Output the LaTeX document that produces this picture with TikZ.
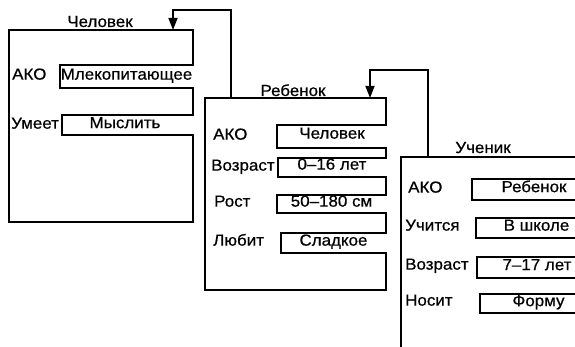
\documentclass[tikz,border=0pt]{standalone}
\usepackage{fontspec}
\setmainfont{Liberation Sans}[FakeStretch=1.06,FakeBold=0.6]
\usetikzlibrary{arrows.meta}
\begin{document}
\begin{tikzpicture}[x=1pt,y=-1pt,
  framebox/.style={line width=1.6pt,line join=miter},
  arr/.style={line width=1.6pt,-{Triangle[length=12pt,width=9pt]}},
  slotlbl/.style={anchor=mid west,inner sep=0pt,font=\fontsize{16}{18}\selectfont},
  slotval/.style={anchor=mid,inner sep=0pt,font=\fontsize{16}{18}\selectfont},
  title/.style={anchor=base,inner sep=0pt,font=\fontsize{16}{18}\selectfont}]
\useasboundingbox (0,0) rectangle (575,347);
\begin{scope}
\clip (0,0) rectangle (575,347);
% Frame 1: Человек
\draw[framebox] (193,30) -- (9,30) -- (9,222) -- (193,222) -- (193,135)
  -- (62,135) -- (62,115) -- (193,115) -- (193,88) -- (60,88) -- (60,65) -- (193,65) -- cycle;
% Frame 2: Ребенок
\draw[framebox] (386,98) -- (205,98) -- (205,290) -- (386,290) -- (386,253)
  -- (281,253) -- (281,233) -- (386,233) -- (386,213) -- (277,213) -- (277,195) -- (386,195)
  -- (386,177) -- (278,177) -- (278,158) -- (386,158) -- (386,148) -- (277,148) -- (277,125)
  -- (386,125) -- cycle;
% Frame 3: Ученик
\draw[framebox] (597,157) -- (401,157) -- (401,360) -- (597,360) -- (597,313)
  -- (480,313) -- (480,294) -- (597,294) -- (597,278) -- (477,278) -- (477,257) -- (597,257)
  -- (597,238) -- (476,238) -- (476,218) -- (597,218) -- (597,200) -- (472,200) -- (472,179)
  -- (597,179) -- cycle;
\end{scope}
% titles
\node[title] (t1) at (100,27) {Человек};
\node[title] (t2) at (293,96) {Ребенок};
\node[title] (t3) at (483,153) {Ученик};
% frame 1 slots
\node[slotlbl] (l11) at (12,77) {АКО};
\node[slotval] (v11) at (126.5,77) {Млекопитающее};
\node[slotlbl] (l12) at (11,126) {Умеет};
\node[slotval] (v12) at (125,125.5) {Мыслить};
% frame 2 slots
\node[slotlbl] (l21) at (213,137) {АКО};
\node[slotval] (v21) at (332,136) {Человек};
\node[slotlbl] (l22) at (211,168) {Возраст};
\node[slotval] (v22) at (332,167) {0–16 лет};
\node[slotlbl] (l23) at (214,204) {Рост};
\node[slotval] (v23) at (331.5,204) {50–180 см};
\node[slotlbl] (l24) at (213,243) {Любит};
\node[slotval] (v24) at (333.5,243) {Сладкое};
% frame 3 slots
\node[slotlbl] (l31) at (408,190) {АКО};
\node[slotval] (v31) at (534,189.5) {Ребенок};
\node[slotlbl] (l32) at (405,228) {Учится};
\node[slotval] (v32) at (536.5,228) {В школе};
\node[slotlbl] (l33) at (405,267) {Возраст};
\node[slotval] (v33) at (537,267.5) {7–17 лет};
\node[slotlbl] (l34) at (405,303) {Носит};
\node[slotval] (v34) at (538.5,303.5) {Форму};
% connectors
\coordinate (kidOut) at (231,98);
\coordinate (humanIn) at (173,30);
\coordinate (pupilOut) at (428,157);
\coordinate (kidIn) at (370,98);
\draw[arr] (kidOut) -- ++(0,-88) -| (humanIn);
\draw[arr] (pupilOut) -- ++(0,-87) -| (kidIn);
\end{tikzpicture}
\end{document}
